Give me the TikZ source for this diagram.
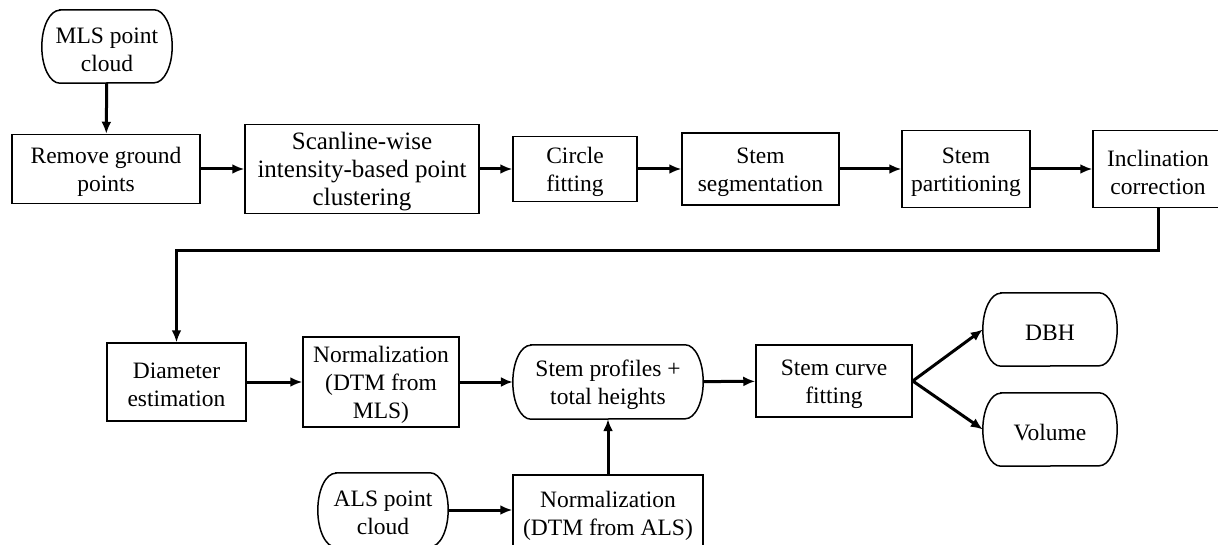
\documentclass[tikz,border=0pt]{standalone}
\usepackage{fontspec}
\setmainfont{Liberation Serif}
\usetikzlibrary{arrows.meta}
% #1 name, #2 x, #3 y, #4 width, #5 height, #6 extra text style, #7 text
\newcommand\flowbox[7]{%
  \node[box, minimum width=#4, minimum height=#5] (#1) at (#2,#3) {};
  \node[txt, #6] (#1-t) at (#2,#3+3) {#7};}
% terminal: flat top and bottom, half-elliptic ends
\newcommand\termbox[7]{%
  \node[inner sep=0pt, minimum width=#4, minimum height=#5] (#1) at (#2,#3) {};
  \draw[outline] ([xshift=18pt]#1.north west) -- ([xshift=-18pt]#1.north east)
    arc[start angle=90, end angle=-90, x radius=18pt, y radius=#5/2]
    -- ([xshift=18pt]#1.south west)
    arc[start angle=270, end angle=90, x radius=18pt, y radius=#5/2] -- cycle;
  \node[txt, #6] (#1-t) at (#2,#3+3) {#7};}
\begin{document}
\begin{tikzpicture}[x=1pt,y=-1pt,
  outline/.style={line width=1.5pt},
  box/.style={draw, outline, inner sep=0pt},
  txt/.style={align=center, inner sep=0pt, font=\fontsize{23.5}{28}\selectfont},
  big/.style={font=\fontsize{25}{28}\selectfont},
  arr/.style={line width=3pt, -{Latex[length=12pt,width=10pt]}},
  ]
\useasboundingbox (0,0) rectangle (1218,545);
\clip (0,0) rectangle (1218,545);
% row 1
\termbox{mls}{107}{46.5}{130pt}{73pt}{}{MLS point\\cloud}
\flowbox{rg}{106}{169}{188pt}{69pt}{}{Remove ground\\points}
\flowbox{scan}{362}{169}{234pt}{89pt}{big}{Scanline-wise\\intensity-based point\\clustering}
\flowbox{circ}{575}{169}{124pt}{65pt}{}{Circle\\fitting}
\flowbox{seg}{760.5}{169}{157pt}{72pt}{}{Stem\\segmentation}
\flowbox{part}{966}{169}{128pt}{77pt}{}{Stem\\partitioning}
\flowbox{incl}{1158}{169}{130pt}{77pt}{}{Inclination\\correction}
% row 2
\flowbox{diam}{176.5}{382}{139pt}{78pt}{}{Diameter\\estimation}
\flowbox{nmls}{381}{382}{156pt}{90pt}{}{Normalization\\(DTM from\\MLS)}
\termbox{prof}{608}{382}{190pt}{74pt}{}{Stem profiles +\\total heights}
\flowbox{fit}{834}{381}{156pt}{72pt}{}{Stem curve\\fitting}
\termbox{dbh}{1050}{329.5}{134pt}{73pt}{}{DBH}
\termbox{vol}{1050}{429.5}{134pt}{73pt}{}{Volume}
% row 3
\termbox{als}{383}{510}{130pt}{74pt}{}{ALS point\\cloud}
\flowbox{nals}{608}{513}{190pt}{76pt}{}{Normalization\\(DTM from ALS)}
% connectors
\coordinate (turn) at (1158,251);
\draw[arr] (mls) -- (rg);
\draw[arr] (rg) -- (scan);
\draw[arr] (scan) -- (circ);
\draw[arr] (circ) -- (seg);
\draw[arr] (seg) -- (part);
\draw[arr] (part) -- (incl);
\draw[arr] (incl.south) -- (turn) -- (turn -| diam.north) -- (diam.north);
\draw[arr] (diam) -- (nmls);
\draw[arr] (nmls) -- (prof);
\draw[arr] (prof) -- (fit);
\draw[arr] (fit.east) -- (dbh.west);
\draw[arr] (fit.east) -- (vol.west);
\draw[arr] (als.east) -- (als.east -| nals.west);
\draw[arr] (nals.north) -- (prof.south);
\end{tikzpicture}
\end{document}
